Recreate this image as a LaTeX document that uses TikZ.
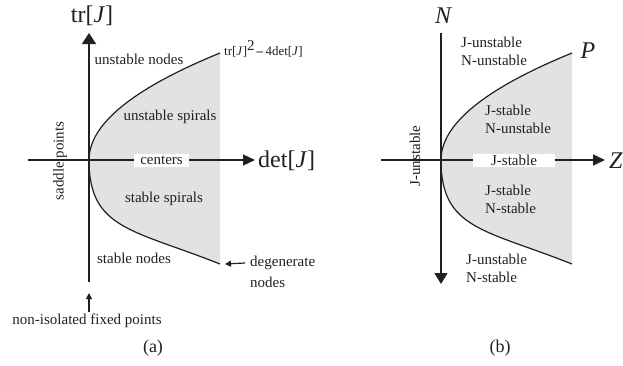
\documentclass[tikz,border=0pt]{standalone}
\usepackage{fontspec}
\setmainfont{Liberation Serif}
\usetikzlibrary{arrows.meta}
\definecolor{ink}{RGB}{35,31,32}
\definecolor{shade}{RGB}{225,227,227}
\begin{document}
\begin{tikzpicture}[x=1pt,y=-1pt,
  lab/.style={font=\fontsize{15}{17}\selectfont, text=ink, inner sep=0pt},
  big/.style={font=\fontsize{24}{26}\selectfont, text=ink, inner sep=0pt},
  captext/.style={font=\fontsize{18}{20}\selectfont, text=ink, inner sep=0pt},
  axis/.style={draw=ink, line width=1.4pt},
  curve/.style={draw=ink, line width=1.2pt},
  region/.style={fill=shade},
  whitebox/.style={lab, fill=white, minimum height=13pt},
  pointer/.style={draw=ink, line width=1.2pt, -{Triangle[length=6pt,width=6pt]}},
  twoline/.style={lab, align=left, anchor=west, font=\fontsize{15}{18}\selectfont}
]
\useasboundingbox (0,0) rectangle (623,365);

% ---------------- panel (a)
\fill[region] (220,53) .. controls (132.67,88.67) and (89,124.33) .. (89,160)
  .. controls (89,229.33) and (132.67,229.33) .. (220,264) -- cycle;
\draw[curve] (220,53) .. controls (132.67,88.67) and (89,124.33) .. (89,160)
  .. controls (89,229.33) and (132.67,229.33) .. (220,264);
\coordinate (Aend) at (220,264);
\coordinate (Atop) at (89,33);
\coordinate (Abot) at (89,282);
\coordinate (Aleft) at (28,160);
\coordinate (Aright) at (255,160);
\draw[axis, -{Triangle[length=11pt,width=14pt]}] (Abot) -- (Atop);
\draw[axis, -{Triangle[length=12pt,width=11pt]}] (Aleft) -- (Aright);

\node[whitebox, minimum width=55pt] (cen) at (161.5,160.5) {centers};
\node[big] (trJ) at (92,16) {tr[\textit{J}]};
\node[big, anchor=west] (detJ) at (258,161) {det[\textit{J}]};
\node[lab, anchor=west, font=\fontsize{13}{15}\selectfont] (disc) at (224,49)
  {tr[\textit{J}]\raisebox{5pt}{\fontsize{15}{15}\selectfont 2}\,\textbf{–}\,4det[\textit{J}]};
\node[lab] (un) at (139,59) {unstable nodes};
\node[lab] (us) at (170,117) {unstable spirals};
\node[lab] (ss) at (164,199) {stable spirals};
\node[lab] (sn) at (134,258) {stable nodes};
\node[lab, rotate=90] (sp) at (60,161) {saddle points};
\node[lab, anchor=west] (dg) at (250,263) {degenerate};
\node[lab, anchor=west] (dgn) at (250,282) {nodes};
\draw[pointer] ([xshift=-5pt]dg.west) -- ([xshift=5pt]Aend);
\node[lab] (nf) at (87,321) {non-isolated fixed points};
\coordinate (nfa) at (89,312);
\coordinate (nfb) at (89,293);
\draw[pointer] (nfa) -- (nfb);
\node[captext] (capa) at (153,348) {(a)};

% ---------------- panel (b)
\begin{scope}[xshift=352pt]
\fill[region] (220,53) .. controls (132.67,88.67) and (89,124.33) .. (89,160)
  .. controls (89,229.33) and (132.67,229.33) .. (220,264) -- cycle;
\draw[curve] (220,53) .. controls (132.67,88.67) and (89,124.33) .. (89,160)
  .. controls (89,229.33) and (132.67,229.33) .. (220,264);
\end{scope}
\coordinate (Btop) at (441,33);
\coordinate (Bbot) at (441,284);
\coordinate (Bleft) at (381,160);
\coordinate (Bright) at (605,160);
\draw[axis, -{Triangle[length=11pt,width=13pt]}] (Btop) -- (Bbot);
\draw[axis, -{Triangle[length=12pt,width=11pt]}] (Bleft) -- (Bright);

\node[whitebox, minimum width=82pt] (js) at (514,160.5) {J-stable};
\node[big, font=\fontsize{24}{26}\selectfont\itshape] (N) at (443,16) {N};
\node[big, font=\fontsize{24}{26}\selectfont\itshape] (P) at (588,51) {P};
\node[big, font=\fontsize{24}{26}\selectfont\itshape, anchor=west] (Z) at (609,161) {Z};
\node[twoline] (r1) at (461,51) {J-unstable\\N-unstable};
\node[twoline] (r2) at (485,119) {J-stable\\N-unstable};
\node[twoline] (r3) at (485,199.5) {J-stable\\N-stable};
\node[twoline] (r4) at (466,268) {J-unstable\\N-stable};
\node[lab, rotate=90] (ju) at (415,156) {J-unstable};
\node[captext] (capb) at (500,348) {(b)};
\end{tikzpicture}
\end{document}
